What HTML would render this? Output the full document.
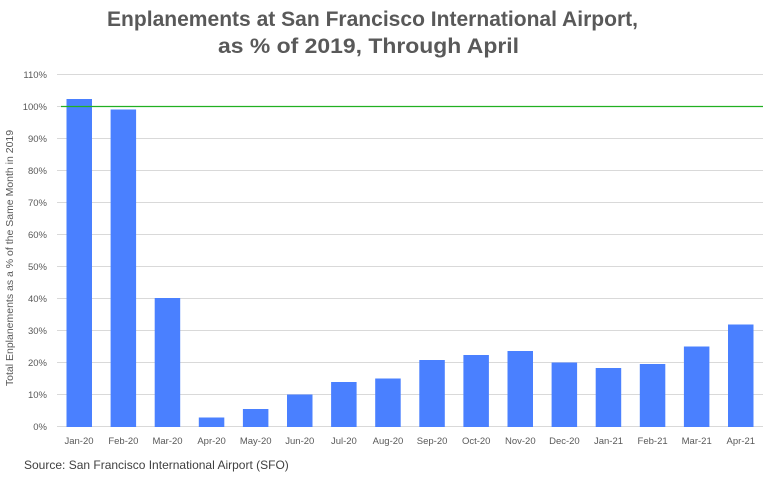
<!DOCTYPE html>
<html><head><style>body{margin:0;background:#fff}svg{display:block}text{font-family:"Liberation Sans",sans-serif}</style></head><body>
<svg width="764" height="481" viewBox="0 0 764 481">
<text x="107" y="26" font-size="21" font-weight="bold" fill="#595959" textLength="531" lengthAdjust="spacingAndGlyphs">Enplanements at  San Francisco International Airport,</text>
<text x="218" y="53" font-size="21" font-weight="bold" fill="#595959" textLength="301" lengthAdjust="spacingAndGlyphs">as % of 2019, Through April</text>
<g stroke="#d9d9d9" stroke-width="1">
<line x1="57" x2="763" y1="74.5" y2="74.5"/><line x1="57" x2="763" y1="106.5" y2="106.5"/><line x1="57" x2="763" y1="138.5" y2="138.5"/><line x1="57" x2="763" y1="170.5" y2="170.5"/><line x1="57" x2="763" y1="202.5" y2="202.5"/><line x1="57" x2="763" y1="234.5" y2="234.5"/><line x1="57" x2="763" y1="266.5" y2="266.5"/><line x1="57" x2="763" y1="298.5" y2="298.5"/><line x1="57" x2="763" y1="330.5" y2="330.5"/><line x1="57" x2="763" y1="362.5" y2="362.5"/><line x1="57" x2="763" y1="394.5" y2="394.5"/><line x1="57" x2="763" y1="426.5" y2="426.5"/>
</g>
<g font-size="9.5" fill="#595959" text-anchor="end">
<text x="47" y="78">110%</text><text x="47" y="110">100%</text><text x="47" y="142">90%</text><text x="47" y="174">80%</text><text x="47" y="206">70%</text><text x="47" y="238">60%</text><text x="47" y="270">50%</text><text x="47" y="302">40%</text><text x="47" y="334">30%</text><text x="47" y="366">20%</text><text x="47" y="398">10%</text><text x="47" y="430">0%</text>
</g>
<text transform="translate(13,258) rotate(-90)" text-anchor="middle" font-size="10.5" fill="#595959">Total Enplanements  as a % of the  Same Month in 2019</text>
<g fill="#4a80ff">
<rect x="66.5" y="99" width="25.5" height="328"/>
<rect x="110.6" y="109.5" width="25.5" height="317.5"/>
<rect x="154.7" y="298" width="25.5" height="129"/>
<rect x="198.8" y="417.5" width="25.5" height="9.5"/>
<rect x="242.9" y="409" width="25.5" height="18"/>
<rect x="287" y="394.5" width="25.5" height="32.5"/>
<rect x="331.1" y="382" width="25.5" height="45"/>
<rect x="375.2" y="378.5" width="25.5" height="48.5"/>
<rect x="419.3" y="360" width="25.5" height="67"/>
<rect x="463.4" y="355" width="25.5" height="72"/>
<rect x="507.5" y="351" width="25.5" height="76"/>
<rect x="551.6" y="362.5" width="25.5" height="64.5"/>
<rect x="595.7" y="368" width="25.5" height="59"/>
<rect x="639.8" y="364" width="25.5" height="63"/>
<rect x="683.9" y="346.5" width="25.5" height="80.5"/>
<rect x="728" y="324.5" width="25.5" height="102.5"/>
</g>
<line x1="61" x2="763" y1="106.5" y2="106.5" stroke="#22b022" stroke-width="1.2"/>
<g font-size="9.5" fill="#595959" text-anchor="middle">
<text x="79" y="444">Jan-20</text><text x="123.4" y="444">Feb-20</text><text x="167.5" y="444">Mar-20</text><text x="211.6" y="444">Apr-20</text><text x="255.7" y="444">May-20</text><text x="299.8" y="444">Jun-20</text><text x="343.9" y="444">Jul-20</text><text x="388" y="444">Aug-20</text><text x="432.1" y="444">Sep-20</text><text x="476.2" y="444">Oct-20</text><text x="520.3" y="444">Nov-20</text><text x="564.4" y="444">Dec-20</text><text x="608.5" y="444">Jan-21</text><text x="652.6" y="444">Feb-21</text><text x="696.7" y="444">Mar-21</text><text x="740.8" y="444">Apr-21</text>
</g>
<text x="24" y="469" font-size="12" fill="#404040">Source: San Francisco International Airport (SFO)</text>
</svg>
</body></html>
